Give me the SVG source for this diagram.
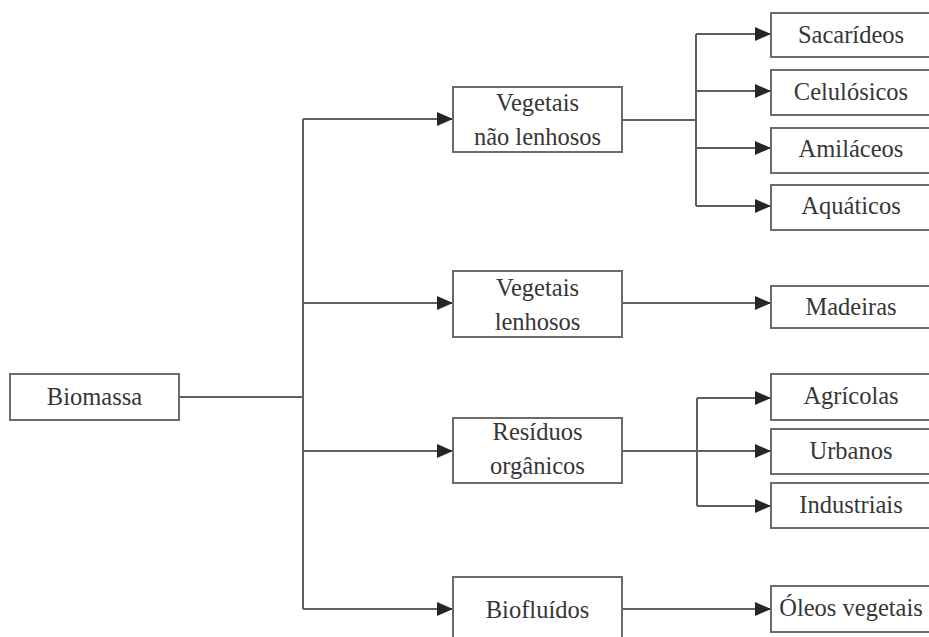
<svg xmlns="http://www.w3.org/2000/svg" width="929" height="637" viewBox="0 0 929 637">
<style>
.box{fill:#fff;stroke:#6b6b6b;stroke-width:2}
.lbl{font-family:"Liberation Serif","DejaVu Serif",serif;font-size:24.5px;fill:#363636;text-anchor:middle}
.ln{fill:none;stroke:#5f5f5f;stroke-width:2}
.arr{marker-end:url(#ah)}
</style>
<defs>
<marker id="ah" markerUnits="userSpaceOnUse" markerWidth="17" markerHeight="14" refX="16" refY="7" orient="auto">
<path d="M0,0 L16,7 L0,14 Z" fill="#262626"/>
</marker>
</defs>
<rect width="929" height="637" fill="#fff"/>
<g id="connectors">
<path class="ln" d="M179,397 H303"/>
<path class="ln" d="M303,119 V609"/>
<path class="ln arr" d="M303,119 H453"/>
<path class="ln arr" d="M303,303 H453"/>
<path class="ln arr" d="M303,451 H453"/>
<path class="ln arr" d="M303,609 H453"/>
<path class="ln" d="M622,120 H696"/>
<path class="ln" d="M696,34 V206"/>
<path class="ln arr" d="M696,34 H771"/>
<path class="ln arr" d="M696,91 H771"/>
<path class="ln arr" d="M696,148 H771"/>
<path class="ln arr" d="M696,206 H771"/>
<path class="ln arr" d="M622,303 H771"/>
<path class="ln arr" d="M622,451 H771"/>
<path class="ln" d="M697,398 V506"/>
<path class="ln arr" d="M697,398 H771"/>
<path class="ln arr" d="M697,506 H771"/>
<path class="ln arr" d="M622,609 H771"/>
</g>
<g id="biomassa"><rect class="box" x="10" y="374" width="169" height="46"/><text class="lbl" x="94.5" y="405">Biomassa</text></g>
<g id="vegetais-nao-lenhosos"><rect class="box" x="453" y="87" width="169" height="65"/><text class="lbl" x="537.5" y="111">Vegetais</text><text class="lbl" x="537.5" y="145">não lenhosos</text></g>
<g id="vegetais-lenhosos"><rect class="box" x="453" y="271" width="169" height="66"/><text class="lbl" x="537.5" y="296">Vegetais</text><text class="lbl" x="537.5" y="330">lenhosos</text></g>
<g id="residuos-organicos"><rect class="box" x="453" y="418" width="169" height="65"/><text class="lbl" x="537.5" y="440">Resíduos</text><text class="lbl" x="537.5" y="474">orgânicos</text></g>
<g id="biofluidos"><rect class="box" x="453" y="577" width="169" height="80"/><text class="lbl" x="537.5" y="618">Biofluídos</text></g>
<g id="sacarideos"><rect class="box" x="771" y="13" width="170" height="44"/><text class="lbl" x="851" y="43">Sacarídeos</text></g>
<g id="celulosicos"><rect class="box" x="771" y="70" width="170" height="45"/><text class="lbl" x="851" y="100">Celulósicos</text></g>
<g id="amilaceos"><rect class="box" x="771" y="128" width="170" height="45"/><text class="lbl" x="851" y="157">Amiláceos</text></g>
<g id="aquaticos"><rect class="box" x="771" y="185" width="170" height="45"/><text class="lbl" x="851" y="214">Aquáticos</text></g>
<g id="madeiras"><rect class="box" x="771" y="286" width="170" height="42"/><text class="lbl" x="851" y="315">Madeiras</text></g>
<g id="agricolas"><rect class="box" x="771" y="374" width="170" height="46"/><text class="lbl" x="851" y="404">Agrícolas</text></g>
<g id="urbanos"><rect class="box" x="771" y="429" width="170" height="45"/><text class="lbl" x="851" y="459">Urbanos</text></g>
<g id="industriais"><rect class="box" x="771" y="483" width="170" height="45"/><text class="lbl" x="851" y="513">Industriais</text></g>
<g id="oleos-vegetais"><rect class="box" x="771" y="586" width="170" height="46"/><text class="lbl" x="851" y="616">Óleos vegetais</text></g>
</svg>
